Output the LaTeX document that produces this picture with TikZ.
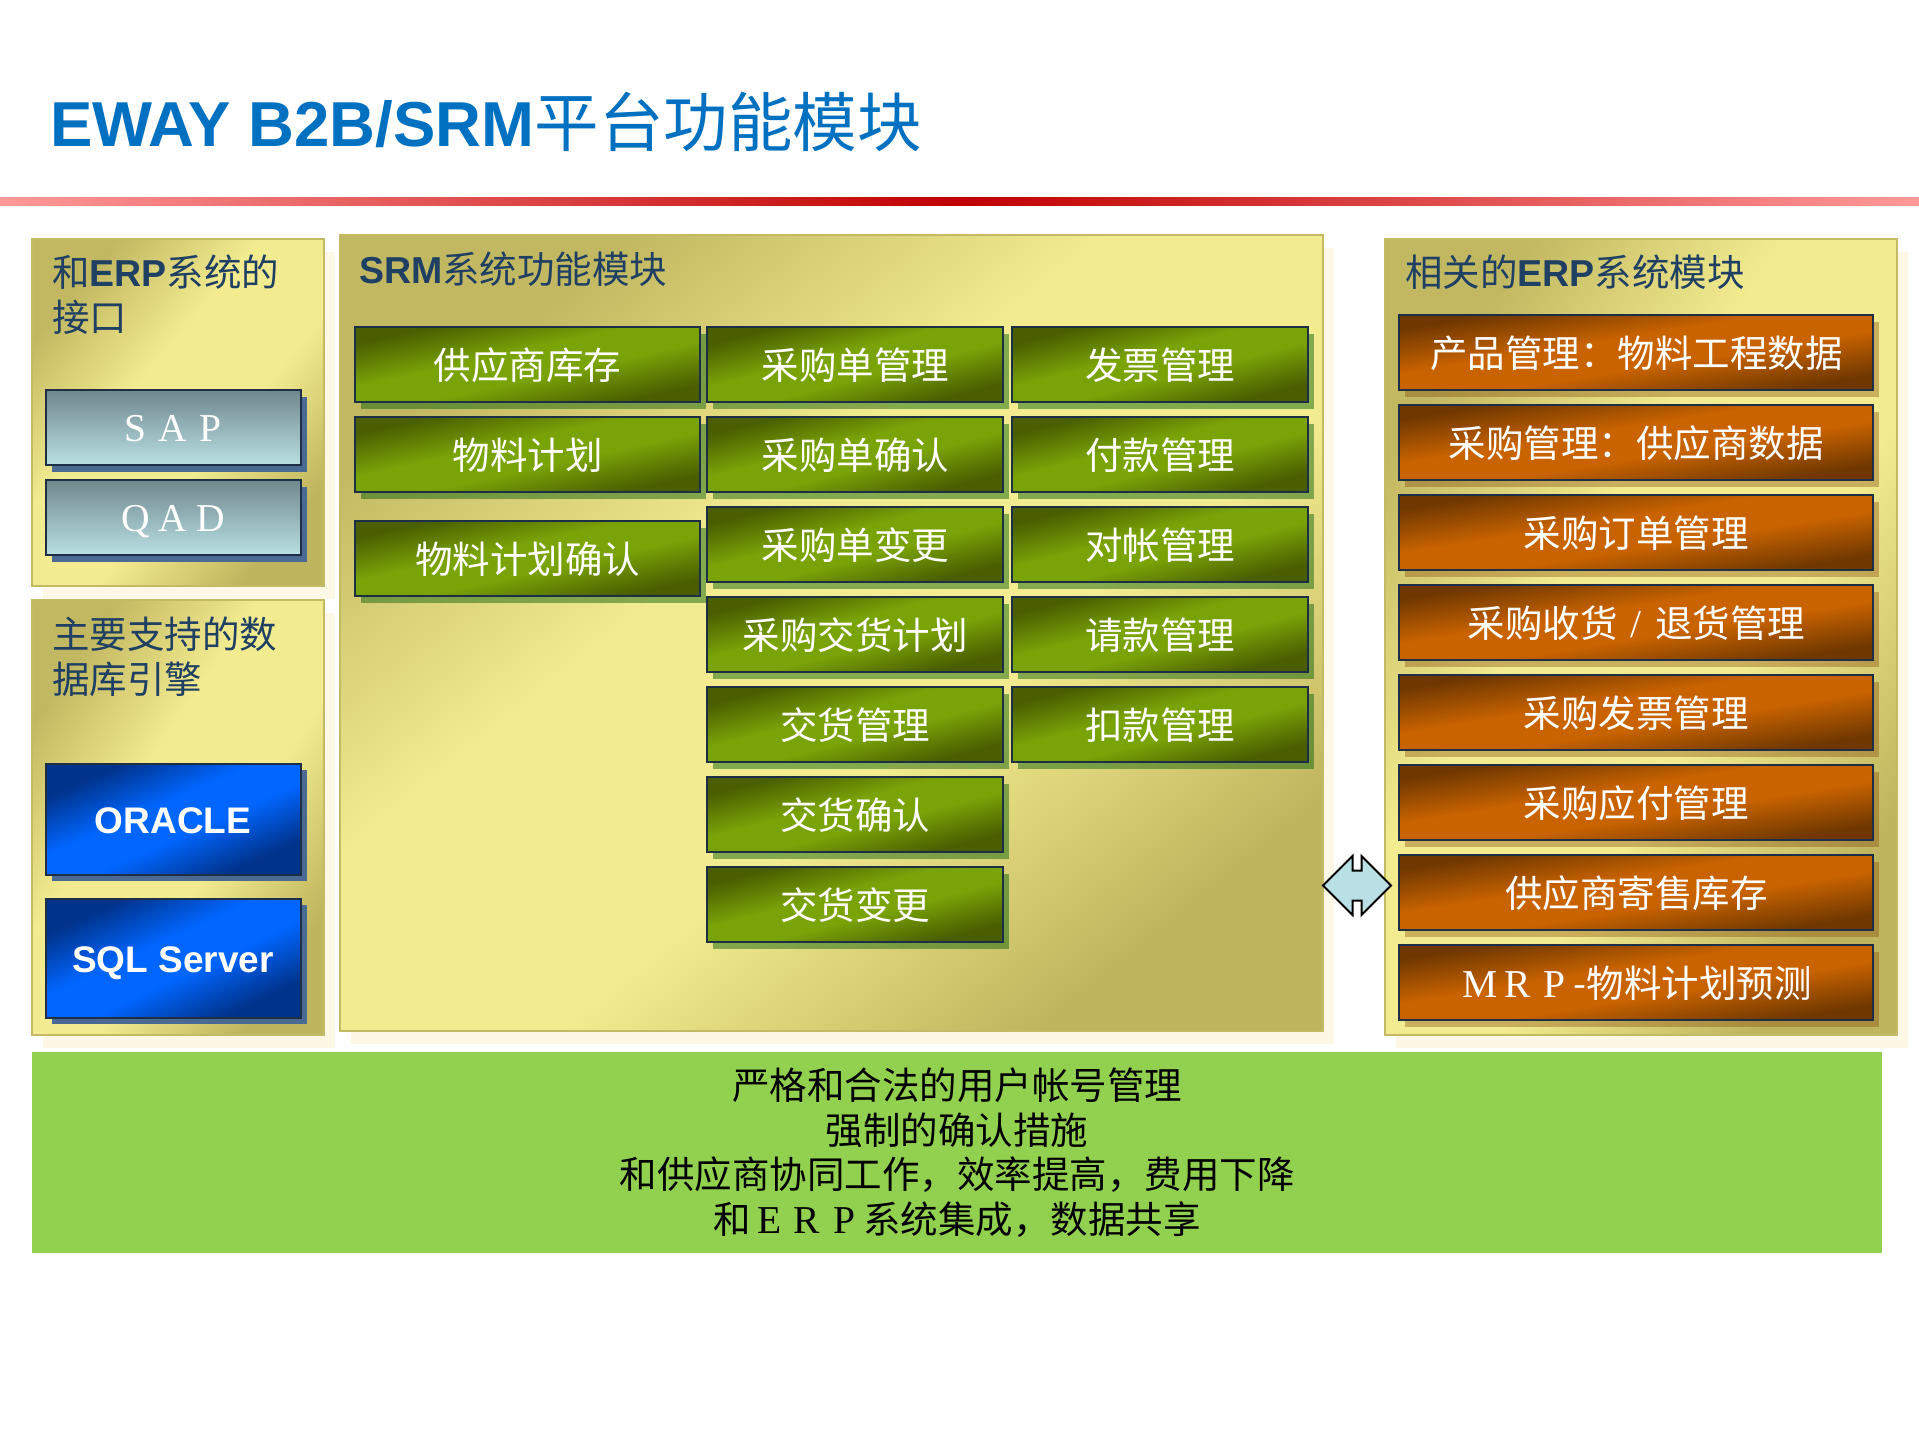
\documentclass[tikz,border=0pt]{standalone}
\usepackage{fontspec}
\setmainfont{Liberation Sans}
\newfontfamily\cjk{Noto Sans CJK SC}
\newfontfamily\lsf{Liberation Serif}
\usetikzlibrary{shadows,shapes.arrows}
\newcommand{\latb}[1]{{\rmfamily\bfseries #1}}
\newcommand{\fwl}[1]{\makebox[37.5pt]{\lsf\fontsize{39.5}{45}\selectfont #1}}
\pgfdeclarehorizontalshading{khakishade}{100bp}{rgb(0bp)=(0.76,0.72,0.38); rgb(25bp)=(0.76,0.72,0.38); rgb(42bp)=(0.95,0.92,0.56); rgb(58bp)=(0.95,0.92,0.56); rgb(75bp)=(0.75,0.71,0.37); rgb(100bp)=(0.75,0.71,0.37)}
\pgfdeclarehorizontalshading{greenshade}{100bp}{rgb(0bp)=(0.29,0.37,0); rgb(27bp)=(0.29,0.37,0); rgb(44bp)=(0.48,0.64,0.03); rgb(56bp)=(0.48,0.64,0.03); rgb(73bp)=(0.29,0.37,0); rgb(100bp)=(0.29,0.37,0)}
\pgfdeclarehorizontalshading{orangeshade}{100bp}{rgb(0bp)=(0.44,0.22,0); rgb(27bp)=(0.44,0.22,0); rgb(44bp)=(0.79,0.39,0); rgb(56bp)=(0.79,0.39,0); rgb(73bp)=(0.44,0.22,0); rgb(100bp)=(0.44,0.22,0)}
\pgfdeclarehorizontalshading{blueshade}{100bp}{rgb(0bp)=(0,0.2,0.55); rgb(27bp)=(0,0.2,0.55); rgb(44bp)=(0,0.4,1); rgb(56bp)=(0,0.4,1); rgb(73bp)=(0,0.2,0.55); rgb(100bp)=(0,0.2,0.55)}
\definecolor{titleblue}{HTML}{0070C0}
\definecolor{headnavy}{HTML}{1F3F63}
\definecolor{boxline}{HTML}{1C2F45}
\definecolor{panelline}{HTML}{C4BA66}
\definecolor{panelcream}{HTML}{FDF8E6}
\definecolor{sapdark}{HTML}{6F878D}
\definecolor{saplight}{HTML}{B8DFE3}
\definecolor{slateshadow}{HTML}{4A6A94}
\definecolor{rulepink}{HTML}{FF9999}
\definecolor{rulered}{HTML}{C00000}
\definecolor{linkfill}{HTML}{B9E0E5}
\definecolor{notegreen}{HTML}{92D050}
\tikzset{
  every node/.style={inner sep=0pt,outer sep=0pt},
  panelbox/.style={draw=panelline,line width=2pt,shading=khakishade,
    general shadow={shadow xshift=11pt,shadow yshift=-13pt,fill=panelcream}},
  headtext/.style={anchor=north west,align=left,text=headnavy,font=\cjk\fontsize{37.5}{45}\selectfont},
  modbox/.style={draw=boxline,line width=2pt,minimum height=75pt,text=white,text height=34pt,text depth=3.5pt,
    font=\cjk\fontsize{37.5}{45}\selectfont},
  greenbox/.style={modbox,shading=greenshade,shading angle=-75.6,minimum width=296pt,
    general shadow={shadow xshift=6pt,shadow yshift=-7pt,fill=black!40!green!60!black,opacity=0.45}},
  widegreenbox/.style={greenbox,shading angle=-77.6,minimum width=345pt},
  orangebox/.style={modbox,shading=orangeshade,shading angle=-80.9,minimum width=474pt,
    general shadow={shadow xshift=6pt,shadow yshift=-7pt,fill=black!50!orange,opacity=0.35}},
  erpbox/.style={draw=boxline,line width=2pt,minimum width=255pt,minimum height=75pt,text=white,text height=28pt,text depth=0pt,
    font=\fontsize{37.5}{45}\selectfont,top color=sapdark,bottom color=saplight,
    general shadow={shadow xshift=6pt,shadow yshift=-7pt,fill=slateshadow}},
  dbbox/.style={draw=boxline,line width=2pt,minimum width=255pt,text=white,text height=29pt,text depth=0pt,
    font=\fontsize{37}{45}\selectfont\bfseries,shading=blueshade,
    general shadow={shadow xshift=6pt,shadow yshift=-6pt,fill=slateshadow}}
}
\begin{document}
\begin{tikzpicture}[x=1pt,y=-1pt]
\useasboundingbox (0,0) rectangle (1919,1439);
\node (title) [anchor=base west,text=titleblue] at (50,147) {\fontsize{63.5}{70}\selectfont\bfseries EWAY B2B/SRM{\cjk\mdseries\fontsize{64.5}{70}\selectfont 平台功能模块}};
\shade [left color=rulepink,right color=rulered] (0,198) rectangle (960,206);
\shade [left color=rulered,right color=rulepink] (960,198) rectangle (1919,206);
\node (erppanel) [panelbox,shading angle=-40,minimum width=292pt,minimum height=346pt] at (178,412.5) {};
\node (dbpanel) [panelbox,shading angle=-34,minimum width=292pt,minimum height=435pt] at (178,817) {};
\node (srmpanel) [panelbox,shading angle=-51,minimum width=983pt,minimum height=795pt] at (831,633) {};
\node (relpanel) [panelbox,shading angle=-33,minimum width=512pt,minimum height=795pt] at (1640.5,637) {};
\node (erphead) [headtext] at (52,255) {和\latb{ERP}系统的\\接口};
\node (dbhead) [headtext] at (52,617) {主要支持的数\\据库引擎};
\node (srmhead) [headtext] at (359,252) {\latb{SRM}系统功能模块};
\node (relhead) [headtext] at (1405,255) {相关的\latb{ERP}系统模块};
\node (sap) [erpbox] at (173,427) {\fwl{S}\fwl{A}\fwl{P}};
\node (qad) [erpbox] at (173,517) {\fwl{Q}\fwl{A}\fwl{D}};
\node (oracle) [dbbox,shading angle=-66,minimum height=111pt] at (173,819) {ORACLE};
\node (sqlserver) [dbbox,shading angle=-65,minimum height=119pt] at (173,958) {SQL Server};
\node (supstock) [widegreenbox] at (527.5,364) {供应商库存};
\node (matplan) [widegreenbox] at (527.5,454) {物料计划};
\node (matconf) [widegreenbox] at (527.5,558) {物料计划确认};
\node (pomgmt) [greenbox] at (855.25,364) {采购单管理};
\node (poconf) [greenbox] at (855.25,454) {采购单确认};
\node (pochange) [greenbox] at (855.25,544) {采购单变更};
\node (poplan) [greenbox] at (855.25,634) {采购交货计划};
\node (delmgmt) [greenbox] at (855.25,724) {交货管理};
\node (delconf) [greenbox] at (855.25,814) {交货确认};
\node (delchange) [greenbox] at (855.25,904) {交货变更};
\node (invmgmt) [greenbox] at (1160,364) {发票管理};
\node (paymgmt) [greenbox] at (1160,454) {付款管理};
\node (recmgmt) [greenbox] at (1160,544) {对帐管理};
\node (reqmgmt) [greenbox] at (1160,634) {请款管理};
\node (dedmgmt) [greenbox] at (1160,724) {扣款管理};
\node (prodmgmt) [orangebox] at (1636.3,352) {产品管理：物料工程数据};
\node (purmgmt) [orangebox] at (1636.3,442) {采购管理：供应商数据};
\node (ordmgmt) [orangebox] at (1636.3,532) {采购订单管理};
\node (recvmgmt) [orangebox] at (1636.3,622) {采购收货\fwl{/}退货管理};
\node (billmgmt) [orangebox] at (1636.3,712) {采购发票管理};
\node (paybmgmt) [orangebox] at (1636.3,802) {采购应付管理};
\node (consign) [orangebox] at (1636.3,892) {供应商寄售库存};
\node (mrp) [orangebox] at (1636.3,982) {\fwl{M}\fwl{R}\fwl{P}-物料计划预测};
\node (xlink) [double arrow,draw=black,line width=2pt,fill=linkfill,inner ysep=14pt,minimum height=68pt,double arrow head extend=14.5pt] at (1357,885.5) {};
\node (notes) [fill=notegreen,minimum width=1850pt,minimum height=201pt,align=center,font=\cjk\fontsize{37.5}{44.5}\selectfont] at (957,1152.5) {严格和合法的用户帐号管理\\强制的确认措施\\和供应商协同工作，效率提高，费用下降\\和\fwl{E}\fwl{R}\fwl{P}系统集成，数据共享};
\end{tikzpicture}
\end{document}
